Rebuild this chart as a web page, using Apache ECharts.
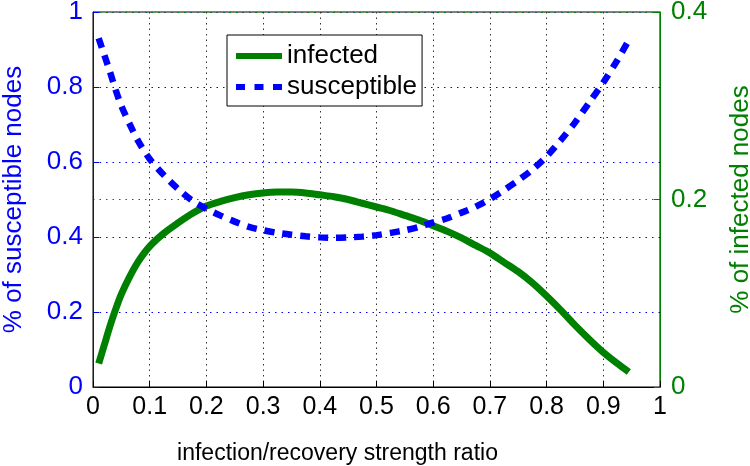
<!DOCTYPE html>
<html>
<head>
<meta charset="utf-8">
<script src="https://cdn.jsdelivr.net/npm/echarts@6/dist/echarts.min.js"></script>
<style>html,body{margin:0;padding:0;background:#fff}#c{width:750px;height:466px}</style>
</head>
<body>
<div id="c"></div>
<script>
// x values (infection/recovery strength ratio)
var ratio = [0.01,0.02,0.03,0.04,0.05,0.065,0.08,0.1,0.125,0.15,0.175,0.2,0.225,0.25,0.275,0.3,0.325,0.35,0.375,0.4,0.425,0.45,0.475,0.5,0.525,0.55,0.575,0.6,0.625,0.65,0.675,0.7,0.725,0.75,0.775,0.8,0.825,0.85,0.875,0.9,0.925,0.945];
// % of susceptible nodes (left axis)
var susceptible = [0.93,0.885,0.84,0.792,0.75,0.70,0.655,0.608,0.565,0.528,0.497,0.475,0.457,0.441,0.427,0.418,0.411,0.406,0.402,0.399,0.398,0.399,0.401,0.405,0.411,0.418,0.427,0.439,0.45,0.465,0.481,0.501,0.525,0.551,0.58,0.615,0.658,0.705,0.758,0.812,0.872,0.925];
// % of infected nodes (right axis)
var infected = [0.025,0.045,0.065,0.083,0.099,0.118,0.134,0.15,0.164,0.175,0.185,0.193,0.198,0.202,0.205,0.207,0.208,0.208,0.207,0.205,0.203,0.2,0.196,0.192,0.188,0.183,0.178,0.172,0.166,0.159,0.151,0.143,0.133,0.123,0.111,0.097,0.082,0.066,0.051,0.037,0.025,0.016];
var xTicks = {min: 0, max: 1, interval: 0.1};
var leftTicks = {min: 0, max: 1, interval: 0.2};
var rightTicks = {min: 0, max: 0.4, interval: 0.2};
var seriesNames = ['infected', 'susceptible'];

var FONT = 'Liberation Sans, Arial, Helvetica, sans-serif';
var BLUE = '#0000ff', GREEN = '#008000';

function pairs(xs, ys){ return xs.map(function(x,i){ return [x, ys[i]]; }); }

var chart = echarts.init(document.getElementById('c'), null, {renderer:'canvas'});
chart.setOption({
  animation: false,
  backgroundColor: '#fff',
  textStyle: {fontFamily: FONT},
  grid: {left: 93, right: 90, top: 12, bottom: 79, show: true, borderColor: '#000', borderWidth: 1,
         backgroundColor: 'transparent', containLabel: false, outerBoundsMode: 'none'},
  legend: {
    left: 227, top: 35, orient: 'vertical',
    backgroundColor: '#fff', borderColor: '#000', borderWidth: 1,
    padding: [8, 5, 6, 9], itemGap: 5, itemWidth: 46, itemHeight: 6, itemTextGap: 6,
    textStyle: {fontSize: 26, color: '#000', fontFamily: FONT},
    data: [
      {name: seriesNames[0], icon: 'rect'},
      {name: seriesNames[1], icon: 'path://M0,0h9v6h-9z M18.5,0h9v6h-9z M37,0h9v6h-9z'}
    ]
  },
  xAxis: {
    type: 'value', min: xTicks.min, max: xTicks.max, interval: xTicks.interval,
    name: 'infection/recovery strength ratio', nameLocation: 'middle', nameGap: 55,
    nameTextStyle: {fontSize: 23, color: '#000', fontFamily: FONT, padding: [0, 78, 0, 0]},
    axisLine: {show: true, lineStyle: {color: '#000', width: 1}},
    axisTick: {show: true, inside: true, length: 6, lineStyle: {color: '#000'}},
    axisLabel: {fontSize: 25, color: '#000', margin: 8, fontFamily: FONT},
    splitLine: {show: true, lineStyle: {color: '#333', width: 1, type: [1.5, 4]}}
  },
  yAxis: [{
    type: 'value', position: 'left', min: leftTicks.min, max: leftTicks.max, interval: leftTicks.interval,
    name: '% of susceptible nodes', nameLocation: 'middle', nameGap: 66,
    nameTextStyle: {fontSize: 26, color: BLUE, fontFamily: FONT},
    axisLine: {show: true, lineStyle: {color: BLUE, width: 1}},
    axisTick: {show: true, inside: true, length: 6, lineStyle: {color: BLUE}},
    axisLabel: {fontSize: 26, color: BLUE, margin: 10, fontFamily: FONT},
    splitLine: {show: true, lineStyle: {color: BLUE, width: 1, type: [1.5, 5]}}
  }, {
    type: 'value', position: 'right', min: rightTicks.min, max: rightTicks.max, interval: rightTicks.interval,
    name: '% of infected nodes', nameLocation: 'middle', nameGap: 68,
    nameTextStyle: {fontSize: 26, color: GREEN, fontFamily: FONT},
    axisLine: {show: true, lineStyle: {color: GREEN, width: 1}},
    axisTick: {show: true, inside: true, length: 6, lineStyle: {color: GREEN}},
    axisLabel: {fontSize: 26, color: GREEN, margin: 11, fontFamily: FONT},
    splitLine: {show: true, lineStyle: {color: GREEN, width: 1, type: [1.5, 5]}}
  }],
  series: [{
    name: seriesNames[0], type: 'line', yAxisIndex: 1, data: pairs(ratio, infected),
    smooth: 0.3, showSymbol: false, symbol: 'none',
    lineStyle: {color: GREEN, width: 7, cap: 'butt'}, itemStyle: {color: GREEN}, z: 3
  }, {
    name: seriesNames[1], type: 'line', yAxisIndex: 0, data: pairs(ratio, susceptible),
    smooth: 0.3, showSymbol: false, symbol: 'none',
    lineStyle: {color: BLUE, width: 6.5, type: [10, 8], cap: 'butt'}, itemStyle: {color: BLUE}, z: 3
  }]
});
</script>
</body>
</html>
